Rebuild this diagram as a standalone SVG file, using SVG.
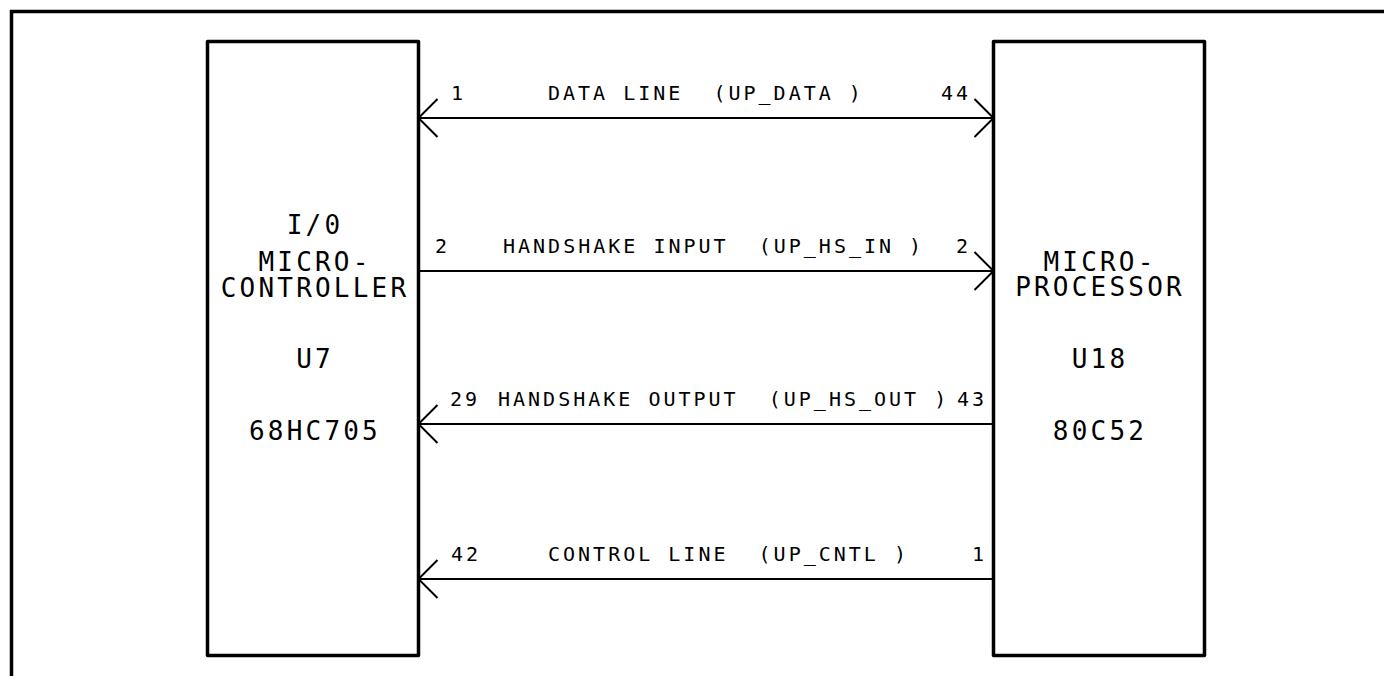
<svg xmlns="http://www.w3.org/2000/svg" width="1384" height="676" viewBox="0 0 1384 676">
<style>
.frame{fill:none;stroke:#000;stroke-width:3.5}
.box{fill:none;stroke:#000;stroke-width:3.5;stroke-linejoin:round}
.wire{fill:none;stroke:#000;stroke-width:2}
.head{fill:none;stroke:#000;stroke-width:2;stroke-linejoin:miter}
.lbl{font-family:"DejaVu Sans Mono","Liberation Mono",monospace;font-size:20px;letter-spacing:3px;fill:#000}
.blbl{font-family:"DejaVu Sans Mono","Liberation Mono",monospace;font-size:26px;letter-spacing:3.2px;fill:#000;text-anchor:middle}
</style>
<rect width="1384" height="676" fill="#fff"/>
<rect class="frame" x="11.5" y="11.5" width="1400" height="700"/>
<g id="u7">
<rect class="box" x="207.5" y="41.5" width="211" height="614"/>
<text class="blbl" x="315" y="234">I/0</text>
<text class="blbl" x="315" y="271">MICRO-</text>
<text class="blbl" x="315" y="297">CONTROLLER</text>
<text class="blbl" x="315" y="368">U7</text>
<text class="blbl" x="315" y="440">68HC705</text>
</g>
<g id="u18">
<rect class="box" x="993.5" y="41.5" width="211" height="614"/>
<text class="blbl" x="1100" y="271">MICRO-</text>
<text class="blbl" x="1100" y="296">PROCESSOR</text>
<text class="blbl" x="1100" y="368">U18</text>
<text class="blbl" x="1100" y="440">80C52</text>
</g>
<g id="connectors">
<line class="wire" x1="418.5" y1="118" x2="993.5" y2="118"/>
<polyline class="head" points="437.5,99 418.5,118 437.5,137"/>
<polyline class="head" points="974.5,99 993.5,118 974.5,137"/>
<line class="wire" x1="418.5" y1="271" x2="993.5" y2="271"/>
<polyline class="head" points="974.5,252 993.5,271 974.5,290"/>
<line class="wire" x1="418.5" y1="424" x2="993.5" y2="424"/>
<polyline class="head" points="437.5,405 418.5,424 437.5,443"/>
<line class="wire" x1="418.5" y1="579" x2="993.5" y2="579"/>
<polyline class="head" points="437.5,560 418.5,579 437.5,598"/>
</g>
<g id="labels">
<text class="lbl" x="451" y="100">1</text>
<text class="lbl" x="548" y="100" xml:space="preserve">DATA LINE  (UP_DATA )</text>
<text class="lbl" x="941" y="100">44</text>
<text class="lbl" x="435" y="253">2</text>
<text class="lbl" x="503" y="253" xml:space="preserve">HANDSHAKE INPUT  (UP_HS_IN )</text>
<text class="lbl" x="956" y="253">2</text>
<text class="lbl" x="450" y="406">29</text>
<text class="lbl" x="498" y="406" xml:space="preserve">HANDSHAKE OUTPUT  (UP_HS_OUT )</text>
<text class="lbl" x="957" y="406">43</text>
<text class="lbl" x="451" y="561">42</text>
<text class="lbl" x="548" y="561" xml:space="preserve">CONTROL LINE  (UP_CNTL )</text>
<text class="lbl" x="972" y="561">1</text>
</g>
</svg>
